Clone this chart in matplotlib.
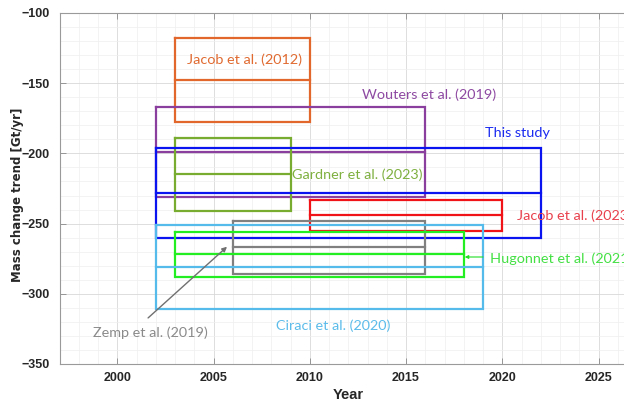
import numpy as np
import matplotlib
matplotlib.use('Agg')
import matplotlib.pyplot as plt
from matplotlib.ticker import MultipleLocator

# Mass change estimates: period covered and trend +/- uncertainty [Gt/yr]
studies = ['Jacob et al. (2012)', 'Wouters et al. (2019)', 'Gardner et al. (2023)',
           'This study', 'Jacob et al. (2023)', 'Zemp et al. (2019)',
           'Hugonnet et al. (2021)', 'Ciraci et al. (2020)']
year_start = [2003, 2002, 2003, 2002, 2010, 2006, 2003, 2002]
year_end = [2010, 2016, 2009, 2022, 2020, 2016, 2018, 2019]
trend = [-148, -199, -215, -228, -244, -267, -272, -281]
uncert = [30, 32, 26, 32, 11, 19, 16, 30]

colors = ['#E2672C', '#8A3E9E', '#77AC30', '#0A14F0', '#F01418',
          '#808080', '#22EE22', '#55BBEA']
text_colors = ['#E06A30', '#8E4AA2', '#7FB040', '#1A2AF0', '#E8404C',
               '#8A8A8A', '#44E044', '#5CBCEA']

plt.rcParams['font.family'] = 'Liberation Sans'

fig = plt.figure(figsize=(6.24, 4.03), dpi=100)
ax = fig.add_axes([0.0954, 0.0968, 0.9255, 0.871])

for s, e, t, u, c in zip(year_start, year_end, trend, uncert, colors):
    ax.plot([s, e, e, s, s], [t + u, t + u, t - u, t - u, t + u], color=c, lw=1.6,
            solid_joinstyle='miter')
    ax.plot([s, e], [t, t], color=c, lw=1.6)

lab = dict(family='Lato', fontsize=10.4)
ax.text(2006.6, -133, studies[0], color=text_colors[0], ha='center', va='center', **lab)
ax.text(2016.2, -158, studies[1], color=text_colors[1], ha='center', va='center', **lab)
ax.text(2009.1, -215, studies[2], color=text_colors[2], ha='left', va='center', **lab)
ax.text(2020.8, -185.5, studies[3], color=text_colors[3], ha='center', va='center', **lab)
ax.text(2020.75, -244.5, studies[4], color=text_colors[4], ha='left', va='center', **lab)
ax.text(2011.2, -323, studies[7], color=text_colors[7], ha='center', va='center', **lab)
ax.text(2001.7, -328, studies[5], color=text_colors[5], ha='center', va='center', **lab)
ax.text(2019.35, -274.8, studies[6], color=text_colors[6], ha='left', va='center', **lab)

# pointer arrows for the two crowded boxes
ax.annotate('', xy=(2005.7, -266.5), xytext=(2001.6, -317.2),
            arrowprops=dict(arrowstyle='-|>', color='#707070', lw=1.0,
                            mutation_scale=7, shrinkA=0, shrinkB=0))
ax.annotate('', xy=(2018.05, -273.8), xytext=(2019.0, -273.8),
            arrowprops=dict(arrowstyle='-|>', color='#22DD22', lw=0.8,
                            mutation_scale=5, shrinkA=0, shrinkB=0))

ax.set_xlim(1997, 2027)
ax.set_ylim(-350, -100)
ax.xaxis.set_major_locator(MultipleLocator(5))
ax.xaxis.set_minor_locator(MultipleLocator(1))
ax.yaxis.set_major_locator(MultipleLocator(50))
ax.yaxis.set_minor_locator(MultipleLocator(10))
ax.grid(True, which='major', color='#d8d8d8', lw=0.6)
ax.grid(True, which='minor', color='#efefef', lw=0.5)
ax.set_axisbelow(True)

ax.tick_params(which='both', direction='in', top=True, right=True,
               colors='#8a8a8a', labelcolor='#262626')
ax.tick_params(which='major', length=4, width=0.6, labelsize=9)
ax.tick_params(axis='x', pad=6)
ax.tick_params(axis='y', pad=7)
ax.tick_params(which='minor', length=0)
for lbl in ax.get_xticklabels() + ax.get_yticklabels():
    lbl.set_fontweight('bold')
for sp in ax.spines.values():
    sp.set_color('#9a9a9a')
    sp.set_linewidth(0.8)

ax.set_xlabel('Year', fontsize=10.5, fontweight='bold', color='#262626', labelpad=3)
ax.set_ylabel('Mass change trend [Gt/yr]', family='Liberation Sans Narrow',
              fontsize=8.5, fontweight='bold', color='#262626')
ax.yaxis.set_label_coords(-0.062, 0.5 - 6 / 351)

fig.savefig('out.png', dpi=100)
